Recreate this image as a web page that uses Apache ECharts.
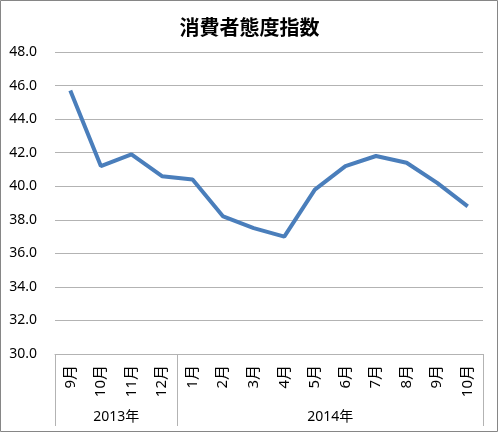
<!DOCTYPE html>
<html>
<head>
<meta charset="utf-8">
<script src="https://cdn.jsdelivr.net/npm/echarts@6/dist/echarts.min.js"></script>
<style>
  html, body { margin: 0; padding: 0; background: #fff; }
  #chart { width: 499px; height: 433px; }
</style>
</head>
<body>
<div id="chart"></div>
<script>
  // 消費者態度指数 2013年9月〜2014年10月
  var months = ['9月', '10月', '11月', '12月', '1月', '2月', '3月', '4月', '5月', '6月', '7月', '8月', '9月', '10月'];
  var values = [45.7, 41.2, 41.9, 40.6, 40.4, 38.2, 37.5, 37.0, 39.8, 41.2, 41.8, 41.4, 40.2, 38.8];
  // year groups: label, first month index, month count
  var years = ['2013年', '2014年'];
  var yearStart = [0, 4];
  var yearCount = [4, 10];

  var yearTicks = [0];
  var yearMids = [];
  for (var i = 0; i < years.length; i++) {
    yearMids.push(yearStart[i] + yearCount[i] / 2);
    yearTicks.push(yearStart[i] + yearCount[i]);
  }

  var font = '"Noto Sans", "Noto Sans CJK JP", sans-serif';
  var myChart = echarts.init(document.getElementById('chart'));
  myChart.setOption({
    animation: false,
    textStyle: { fontFamily: font },
    title: {
      text: '消費者態度指数',
      left: 'center',
      top: 12,
      textStyle: { fontSize: 20, fontWeight: 'bold', color: '#000', fontFamily: '"Noto Sans CJK JP", sans-serif' }
    },
    graphic: [{
      type: 'rect',
      shape: { x: 0.5, y: 0.5, width: 497, height: 431 },
      style: { fill: 'none', stroke: '#868686', lineWidth: 1 },
      silent: true
    }],
    grid: { left: 55, right: 16, top: 52, bottom: 79 },
    xAxis: [
      {
        type: 'category',
        data: months,
        boundaryGap: true,
        axisLine: { lineStyle: { color: '#b3b3b3', width: 1 } },
        axisTick: { show: false },
        axisLabel: { rotate: 90, margin: 11, fontSize: 15, color: '#000', interval: 0 }
      },
      {
        type: 'value',
        min: 0,
        max: yearTicks[yearTicks.length - 1],
        position: 'bottom',
        axisLine: { show: false },
        splitLine: { show: false },
        axisTick: { show: true, customValues: yearTicks, length: 72, lineStyle: { color: '#b3b3b3', width: 1 } },
        axisLabel: {
          customValues: yearMids,
          margin: 56,
          fontSize: 14,
          color: '#000',
          formatter: function (v) {
            var idx = yearMids.indexOf(v);
            return idx >= 0 ? years[idx] : '';
          }
        }
      }
    ],
    yAxis: {
      type: 'value',
      min: 30,
      max: 48,
      interval: 2,
      axisLine: { show: false },
      axisTick: { show: false },
      splitLine: { lineStyle: { color: '#b3b3b3', width: 1 } },
      axisLabel: {
        margin: 18,
        fontSize: 14,
        color: '#000',
        formatter: function (v) { return v.toFixed(1); }
      }
    },
    series: [{
      name: '消費者態度指数',
      type: 'line',
      xAxisIndex: 0,
      data: values,
      symbol: 'none',
      lineStyle: { color: '#4a7ebb', width: 4 }
    }]
  });
</script>
</body>
</html>
